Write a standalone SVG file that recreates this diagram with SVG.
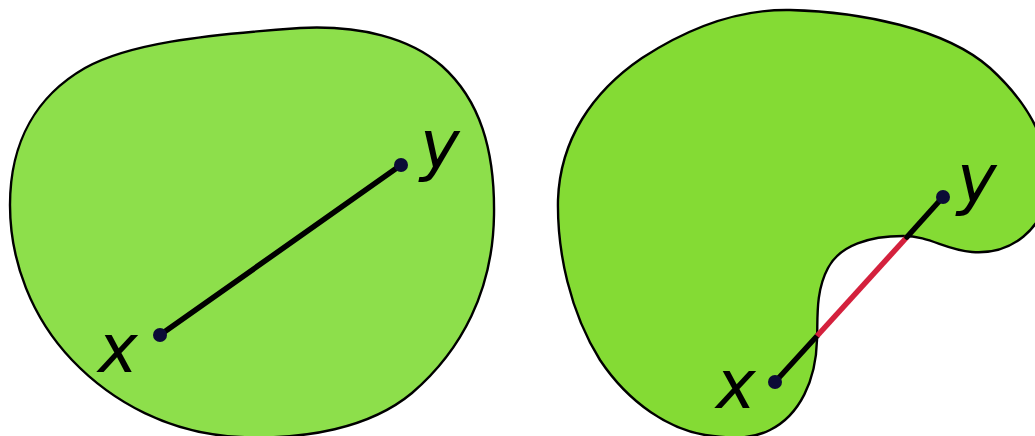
<svg xmlns="http://www.w3.org/2000/svg" width="1035" height="436" viewBox="0 0 1035 436">
<style>
.shape{stroke:#000;stroke-width:2.4;stroke-linejoin:round}
.seg{stroke:#000;stroke-width:5.5;stroke-linecap:round;fill:none}
.bad{stroke:#d4213d;stroke-width:5.5;fill:none}
.dot{fill:#0b0b36}
.lbl{font-family:"DejaVu Sans",sans-serif;font-style:italic;font-size:67px;fill:#000}
</style>
<rect width="1035" height="436" fill="#fff"/>
<g id="convex">
<path class="shape" fill="#8ddf4b" d="M 300,28 C 360,25 410,38 442,66 C 480,100 495,150 494,215 C 493,290 462,350 412,393 C 370,428 305,440 240,437 C 170,434 112,402 72,360 C 32,318 10,262 10,205 C 10,140 38,95 85,68 C 128,44 200,35 300,28 Z"/>
<line class="seg" x1="160" y1="335" x2="401" y2="165"/>
<circle class="dot" cx="160" cy="335" r="7"/>
<circle class="dot" cx="401" cy="165" r="7"/>
<text class="lbl" x="98" y="372">x</text>
<text class="lbl" x="420" y="168">y</text>
</g>
<g id="nonconvex">
<path class="shape" fill="#84db34" d="M 790,10 C 860,12 945,28 990,68 C 1025,100 1050,140 1048,185 C 1046,230 1010,255 972,252 C 945,250 930,236 903,236 C 870,236 840,245 828,268 C 815,292 818,320 817,340 C 816,380 800,415 770,430 C 750,440 730,438 713,436 C 670,432 628,402 600,360 C 570,312 557,252 558,200 C 560,140 592,92 642,58 C 685,30 735,9 790,10 Z"/>
<g id="connectors">
<line class="seg" x1="775" y1="382" x2="817" y2="336"/>
<line class="bad" x1="817" y1="336" x2="907" y2="237"/>
<line class="seg" x1="907" y1="237" x2="943" y2="197"/>
</g>
<circle class="dot" cx="775" cy="382" r="7"/>
<circle class="dot" cx="943" cy="197" r="7"/>
<text class="lbl" x="716" y="408">x</text>
<text class="lbl" x="957" y="202">y</text>
</g>
</svg>
